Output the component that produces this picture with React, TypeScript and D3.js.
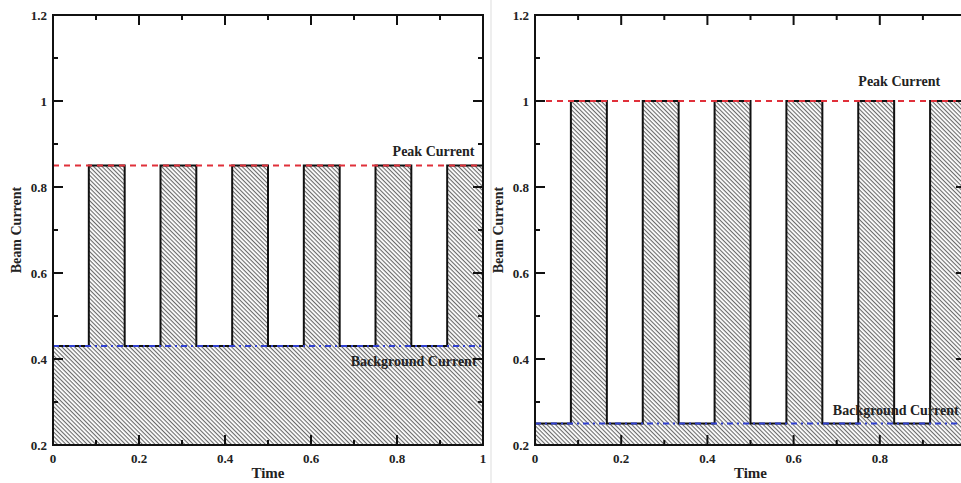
import { useRef, useEffect } from 'react';
import * as d3 from 'd3';

// step edges of the pulse train (time)
const edgeTimes = [0, 0.0833, 0.1667, 0.25, 0.3333, 0.4167, 0.5, 0.5833, 0.6667, 0.75, 0.8333, 0.9167, 1.0];
// current level on each segment between edges
const leftLevels = [0.43, 0.85, 0.43, 0.85, 0.43, 0.85, 0.43, 0.85, 0.43, 0.85, 0.43, 0.85];
const rightLevels = [0.25, 1.0, 0.25, 1.0, 0.25, 1.0, 0.25, 1.0, 0.25, 1.0, 0.25, 1.0];
const leftPeak = 0.85;
const leftBackground = 0.43;
const rightPeak = 1.0;
const rightBackground = 0.25;
const xTicks = [0, 0.2, 0.4, 0.6, 0.8, 1];
const xTickLabels = ['0', '0.2', '0.4', '0.6', '0.8', '1'];
const yTicks = [0.2, 0.4, 0.6, 0.8, 1, 1.2];
const yTickLabels = ['0.2', '0.4', '0.6', '0.8', '1', '1.2'];
const xMinor = [0.1, 0.3, 0.5, 0.7, 0.9];
const yMinor = [0.3, 0.5, 0.7, 0.9, 1.1];

const FONT = '"Liberation Serif", "DejaVu Serif", serif';
const W = 961;

export default function App() {
  const svgRef = useRef<SVGSVGElement>(null);

  useEffect(() => {
    const svg = d3.select(svgRef.current).html('');

    const defs = svg.append('defs');
    const pat = defs.append('pattern')
      .attr('id', 'hatch')
      .attr('patternUnits', 'userSpaceOnUse')
      .attr('width', 8)
      .attr('height', 3)
      .attr('patternTransform', 'rotate(45)');
    pat.append('rect').attr('width', 8).attr('height', 3).attr('fill', '#ffffff');
    pat.append('line')
      .attr('x1', 0).attr('x2', 8).attr('y1', 0.6).attr('y2', 0.6)
      .attr('stroke', '#5a5a5a').attr('stroke-width', 1);

    const panels = [
      { left: 53, right: 483, levels: leftLevels, peak: leftPeak, bg: leftBackground, id: 'l',
        peakLabel: { anchor: 'end', t: 0.98, dy: -10 }, bgLabel: { anchor: 'end', t: 0.985, dy: 20 } },
      { left: 535, right: 966, levels: rightLevels, peak: rightPeak, bg: rightBackground, id: 'r',
        peakLabel: { anchor: 'end', t: 0.94, dy: -15 }, bgLabel: { anchor: 'start', t: 0.691, dy: -9 } },
    ];

    panels.forEach(p => {
      const x = d3.scaleLinear().domain([0, 1]).range([p.left, p.right]);
      const y = d3.scaleLinear().domain([0.2, 1.2]).range([445, 15]);
      const g = svg.append('g');

      const pts: [number, number][] = p.levels.map((v, i) => [edgeTimes[i], v]);
      pts.push([edgeTimes[edgeTimes.length - 1], p.levels[p.levels.length - 1]]);

      const area = d3.area<[number, number]>()
        .x(d => x(d[0])).y0(y(0.2)).y1(d => y(d[1]))
        .curve(d3.curveStepAfter);
      const line = d3.line<[number, number]>()
        .x(d => x(d[0])).y(d => y(d[1]))
        .curve(d3.curveStepAfter);

      g.append('path').datum(pts).attr('d', area).attr('fill', 'url(#hatch)');
      g.append('path').datum(pts).attr('d', line)
        .attr('fill', 'none').attr('stroke', '#111').attr('stroke-width', 2);

      // peak and background reference lines
      g.append('line')
        .attr('x1', x(0)).attr('x2', x(1)).attr('y1', y(p.peak)).attr('y2', y(p.peak))
        .attr('stroke', '#e0303a').attr('stroke-width', 2).attr('stroke-dasharray', '6,5');
      g.append('line')
        .attr('x1', x(0)).attr('x2', x(1)).attr('y1', y(p.bg)).attr('y2', y(p.bg))
        .attr('stroke', '#3040d0').attr('stroke-width', 2).attr('stroke-dasharray', '6,4,2,4');

      g.append('text')
        .attr('x', x(p.peakLabel.t)).attr('y', y(p.peak) + p.peakLabel.dy)
        .attr('text-anchor', p.peakLabel.anchor)
        .attr('font-family', FONT).attr('font-weight', 'bold').attr('font-size', 14)
        .attr('fill', '#222').text('Peak Current');
      g.append('text')
        .attr('x', x(p.bgLabel.t)).attr('y', y(p.bg) + p.bgLabel.dy)
        .attr('text-anchor', p.bgLabel.anchor)
        .attr('font-family', FONT).attr('font-weight', 'bold').attr('font-size', 14)
        .attr('fill', '#222').text('Background Current');

      // frame
      g.append('rect')
        .attr('x', x(0)).attr('y', y(1.2))
        .attr('width', x(1) - x(0)).attr('height', y(0.2) - y(1.2))
        .attr('fill', 'none').attr('stroke', '#111').attr('stroke-width', 2);

      // inward ticks on all four sides
      const tickStyle = (sel: any) => sel.attr('stroke', '#111').attr('stroke-width', 2);
      const addXTicks = (vals: number[], len: number) => {
        vals.forEach(v => {
          tickStyle(g.append('line').attr('x1', x(v)).attr('x2', x(v)).attr('y1', y(0.2)).attr('y2', y(0.2) - len));
          tickStyle(g.append('line').attr('x1', x(v)).attr('x2', x(v)).attr('y1', y(1.2)).attr('y2', y(1.2) + len));
        });
      };
      const addYTicks = (vals: number[], len: number) => {
        vals.forEach(v => {
          tickStyle(g.append('line').attr('x1', x(0)).attr('x2', x(0) + len).attr('y1', y(v)).attr('y2', y(v)));
          tickStyle(g.append('line').attr('x1', x(1)).attr('x2', x(1) - len).attr('y1', y(v)).attr('y2', y(v)));
        });
      };
      addXTicks(xTicks, 10);
      addXTicks(xMinor, 5);
      addYTicks(yTicks, 10);
      addYTicks(yMinor, 5);

      xTicks.forEach((v, i) => {
        if (x(v) > W - 6) return; // falls off the page edge
        g.append('text')
          .attr('x', x(v)).attr('y', 463)
          .attr('text-anchor', 'middle')
          .attr('font-family', FONT).attr('font-weight', 'bold').attr('font-size', 13)
          .attr('fill', '#222').text(xTickLabels[i]);
      });
      yTicks.forEach((v, i) => {
        g.append('text')
          .attr('x', x(0) - 6).attr('y', y(v) + 5)
          .attr('text-anchor', 'end')
          .attr('font-family', FONT).attr('font-weight', 'bold').attr('font-size', 13)
          .attr('fill', '#222').text(yTickLabels[i]);
      });

      g.append('text')
        .attr('x', (x(0) + x(1)) / 2).attr('y', 478)
        .attr('text-anchor', 'middle')
        .attr('font-family', FONT).attr('font-weight', 'bold').attr('font-size', 15)
        .attr('fill', '#222').text('Time');
      g.append('text')
        .attr('transform', `translate(${x(0) - 32},${y(0.7)}) rotate(-90)`)
        .attr('text-anchor', 'middle')
        .attr('font-family', FONT).attr('font-weight', 'bold').attr('font-size', 14)
        .attr('fill', '#222').text('Beam Current');
    });

    // thin separator between the two panels
    svg.append('line')
      .attr('x1', 491).attr('x2', 491).attr('y1', 0).attr('y2', 483)
      .attr('stroke', '#ddd').attr('stroke-width', 1);
  }, []);

  return (
    <svg ref={svgRef} width={W} height={483}
      style={{ position: 'absolute', left: 0, top: 0, background: '#fff' }} />
  );
}
